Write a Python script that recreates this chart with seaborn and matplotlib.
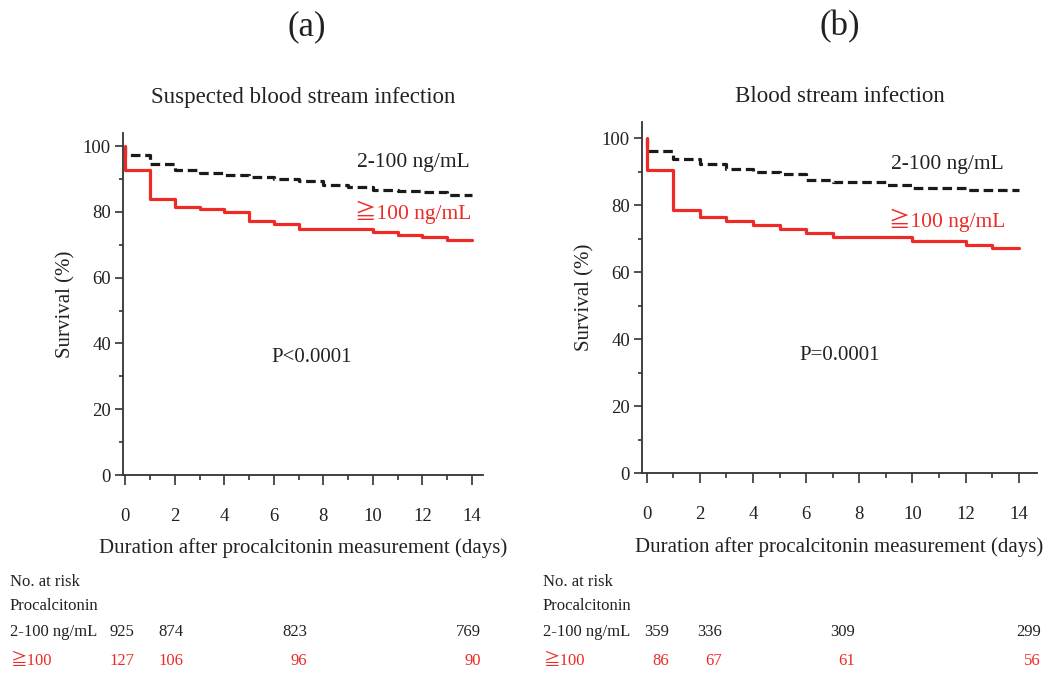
import matplotlib
matplotlib.use("Agg")
import matplotlib.pyplot as plt
import matplotlib.transforms as mtransforms
from matplotlib.ticker import MultipleLocator
import seaborn as sns
import pandas as pd

# ---------------- data ----------------
panel_letters = ["(a)", "(b)"]
panel_titles = ["Suspected blood stream infection", "Blood stream infection"]
p_values = ["P<0.0001", "P=0.0001"]
group_labels = ["2-100 ng/mL", "\u2267100 ng/mL"]
risk_row_labels = ["2-100 ng/mL", "\u2267100"]

a_low_t = [0, 0, 1, 2, 3, 4, 5, 6, 7, 8, 9, 10, 11, 12, 13, 14]
a_low_s = [100, 97.3, 94.6, 92.6, 91.8, 91.2, 90.6, 90.0, 89.3, 88.3, 87.6, 86.8, 86.5, 86.0, 85.2, 85.2]
a_high_t = [0, 0, 1, 2, 3, 4, 5, 6, 7, 10, 11, 12, 13, 14]
a_high_s = [100, 92.6, 84.0, 81.6, 81.0, 80.1, 77.2, 76.2, 74.7, 73.8, 73.0, 72.4, 71.6, 71.6]

b_low_t = [0, 0, 1, 2, 3, 4, 5, 6, 7, 9, 10, 12, 14]
b_low_s = [100, 96.2, 94.0, 92.3, 90.8, 90.0, 89.5, 87.5, 86.9, 86.0, 85.3, 84.7, 84.7]
b_high_t = [0, 0, 1, 2, 3, 4, 5, 6, 7, 10, 12, 13, 14]
b_high_s = [100, 90.5, 78.7, 76.4, 75.3, 74.1, 72.9, 71.8, 70.6, 69.5, 68.3, 67.2, 67.2]

risk_days = [0, 2, 7, 14]
a_risk_low = [925, 874, 823, 769]
a_risk_high = [127, 106, 96, 90]
b_risk_low = [359, 336, 309, 299]
b_risk_high = [86, 67, 61, 56]

x_ticks = [0, 2, 4, 6, 8, 10, 12, 14]
y_ticks = [0, 20, 40, 60, 80, 100]

# ---------------- style ----------------
sns.set_style("ticks")
FAM = ["Liberation Serif", "Noto Sans CJK JP", "DejaVu Sans"]
plt.rcParams["font.family"] = FAM
RED = "#EE2A26"
BLACK = "#1a1a1a"
AX_COL = "#333333"
TXT = "#222222"

W, H = 1053, 673
fig = plt.figure(figsize=(W / 100, H / 100), dpi=100)


def px_axes(l, r, b, t):
    return fig.add_axes([l / W, 1 - b / H, (r - l) / W, (b - t) / H])


panels = [
    dict(box=(122.7, 482.7, 475, 133), xlim=(-0.1, 14.43), ytop=104,
         low=(a_low_t, a_low_s), high=(a_high_t, a_high_s),
         risk=(a_risk_low, a_risk_high), risk_off=9, row_x=10,
         letter_xy=(307, 27), title_xy=(303, 97),
         lab_low=(413, 163), lab_high=(413, 212), p_xy=(312, 357)),
    dict(box=(641.7, 1036.7, 473.3, 121.7), xlim=(-0.19, 14.68), ytop=105,
         low=(b_low_t, b_low_s), high=(b_high_t, b_high_s),
         risk=(b_risk_low, b_risk_high), risk_off=22, row_x=543,
         letter_xy=(840, 27), title_xy=(840, 97),
         lab_low=(947, 165), lab_high=(947, 220), p_xy=(840, 356)),
]

for i, P in enumerate(panels):
    ax = px_axes(*P["box"])
    df_low = pd.DataFrame({"t": P["low"][0], "s": P["low"][1]})
    df_high = pd.DataFrame({"t": P["high"][0], "s": P["high"][1]})
    sns.lineplot(data=df_low, x="t", y="s", ax=ax, estimator=None, sort=False,
                 drawstyle="steps-post", color=BLACK, linewidth=2.3,
                 dashes=False, zorder=3)
    ax.lines[-1].set_dashes((3.0, 1.5))
    sns.lineplot(data=df_high, x="t", y="s", ax=ax, estimator=None, sort=False,
                 drawstyle="steps-post", color=RED, linewidth=2.3, zorder=4)

    ax.set_xlim(*P["xlim"])
    ax.set_ylim(0, P["ytop"])
    ax.set_xticks(x_ticks)
    ax.set_yticks(y_ticks)
    ax.xaxis.set_minor_locator(MultipleLocator(1))
    ax.yaxis.set_minor_locator(MultipleLocator(10))
    ax.tick_params(axis="x", which="major", length=7.5, width=1.2, pad=16,
                   labelsize=13.5, colors=AX_COL, labelcolor=TXT)
    ax.tick_params(axis="x", which="minor", length=3.8, width=1.2, colors=AX_COL)
    ax.tick_params(axis="y", which="major", length=5.5, width=1.2, pad=3,
                   labelsize=13.5, colors=AX_COL, labelcolor=TXT)
    ax.tick_params(axis="y", which="minor", length=3, width=1.2, colors=AX_COL)
    for sp in ["top", "right"]:
        ax.spines[sp].set_visible(False)
    for sp in ["left", "bottom"]:
        ax.spines[sp].set_linewidth(1.3)
        ax.spines[sp].set_color(AX_COL)
    ax.set_xlabel("Duration after procalcitonin measurement (days)",
                  fontsize=15, labelpad=10, color=TXT)
    ax.set_ylabel("Survival (%)", fontsize=15, labelpad=5, color=TXT)

    def ft(xy, s, **kw):
        fig.text(xy[0] / W, 1 - xy[1] / H, s, ha="center", va="center", **kw)

    ft(P["letter_xy"], panel_letters[i], fontsize=25, color=TXT)
    ft(P["title_xy"], panel_titles[i], fontsize=16.5, color=TXT)
    ft(P["lab_low"], group_labels[0], fontsize=15.5, color=TXT)
    ft(P["lab_high"], group_labels[1], fontsize=15.5, color=RED)
    ft(P["p_xy"], p_values[i], fontsize=15, color=TXT)

    # number at risk table
    row_y = [582, 606, 632, 661]
    for txt, yy, col in [("No. at risk", row_y[0], TXT),
                         ("Procalcitonin", row_y[1], TXT),
                         (risk_row_labels[0], row_y[2], TXT),
                         (risk_row_labels[1], row_y[3], RED)]:
        fig.text(P["row_x"] / W, 1 - yy / H, txt, ha="left", va="center",
                 fontsize=12, color=col)
    trans = mtransforms.blended_transform_factory(ax.transData, fig.transFigure)
    trans = mtransforms.offset_copy(trans, fig=fig, x=P["risk_off"], y=0, units="dots")
    for d, nl, nh in zip(risk_days, P["risk"][0], P["risk"][1]):
        ax.text(d, 1 - row_y[2] / H, str(nl), transform=trans, ha="right",
                va="center", fontsize=12, color=TXT, clip_on=False)
        ax.text(d, 1 - row_y[3] / H, str(nh), transform=trans, ha="right",
                va="center", fontsize=12, color=RED, clip_on=False)

fig.savefig("out.png", dpi=100)
